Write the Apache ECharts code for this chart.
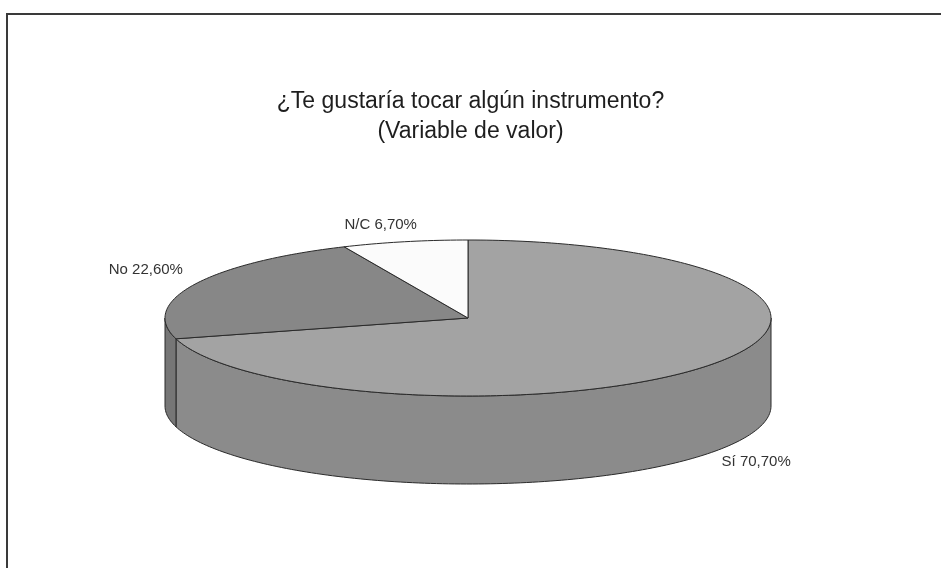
<!DOCTYPE html>
<html>
<head>
<meta charset="utf-8">
<script src="https://cdn.jsdelivr.net/npm/echarts@6/dist/echarts.min.js"></script>
<style>
  html, body { margin: 0; padding: 0; background: #fff; }
  #main { width: 941px; height: 568px; }
</style>
</head>
<body>
<div id="main"></div>
<script>
    // datos del grafico
    var categories = ['Sí', 'No', 'N/C'];
    var values = [70.7, 22.6, 6.7];
    var titleLines = ['¿Te gustaría tocar algún instrumento?', '(Variable de valor)'];

    // colores: cara superior y lateral
    var topColors = ['#a3a3a3', '#878787', '#fbfbfb'];
    var sideColors = ['#8b8b8b', '#767676', '#dddddd'];
    // desplazamiento de etiquetas respecto al borde del sector
    var labelOffsets = [[47, 9], [-48, -15], [-24, -17]];

    var cx = 468, cy = 318, rx = 303, ry = 78, depth = 88;
    var total = values.reduce(function (a, b) { return a + b; }, 0);

    function pt(a, dy) {
        return [cx + rx * Math.sin(a), cy - ry * Math.cos(a) + (dy || 0)];
    }
    function arc(a0, a1, dy) {
        var pts = [];
        var n = Math.max(2, Math.ceil(Math.abs(a1 - a0) / 0.02));
        for (var k = 0; k <= n; k++) {
            pts.push(pt(a0 + (a1 - a0) * k / n, dy));
        }
        return pts;
    }

    var myChart = echarts.init(document.getElementById('main'));
    var option = {
        backgroundColor: '#ffffff',
        animation: false,
        title: [
            {
                text: titleLines[0], left: 'center', top: 85,
                textStyle: { fontFamily: 'Liberation Sans', fontSize: 23, fontWeight: 'normal', color: '#1e1e1e' }
            },
            {
                text: titleLines[1], left: 'center', top: 115,
                textStyle: { fontFamily: 'Liberation Sans', fontSize: 23, fontWeight: 'normal', color: '#1e1e1e' }
            }
        ],
        graphic: [
            {
                type: 'polyline',
                shape: { points: [[7, 568], [7, 14], [941, 14]] },
                style: { stroke: '#3a3a3a', lineWidth: 2, fill: null }
            }
        ],
        series: [
            {
                type: 'custom',
                coordinateSystem: 'none',
                data: categories.map(function (c, i) { return { name: c, value: values[i] }; }),
                renderItem: function (params, api) {
                    var i = params.dataIndex;
                    var before = 0;
                    for (var j = 0; j < i; j++) before += values[j];
                    var a0 = before / total * Math.PI * 2;
                    var a1 = (before + api.value(0)) / total * Math.PI * 2;
                    var children = [];

                    // lateral visible (mitad frontal)
                    var s0 = Math.max(a0, Math.PI / 2), s1 = Math.min(a1, Math.PI * 1.5);
                    if (s1 > s0) {
                        var sidePts = arc(s0, s1, 0).concat(arc(s1, s0, depth));
                        children.push({
                            type: 'polygon', z2: 1,
                            shape: { points: sidePts },
                            style: { fill: sideColors[i], stroke: '#2a2a2a', lineWidth: 1 }
                        });
                    }

                    // cara superior
                    var topPts = [[cx, cy]].concat(arc(a0, a1, 0));
                    children.push({
                        type: 'polygon', z2: 2,
                        shape: { points: topPts },
                        style: { fill: topColors[i], stroke: '#2a2a2a', lineWidth: 1 }
                    });

                    // etiqueta
                    var m = (a0 + a1) / 2;
                    var edge = pt(m, Math.cos(m) < 0 ? depth : 0);
                    var txt = categories[i] + ' ' + api.value(0).toFixed(2).replace('.', ',') + '%';
                    children.push({
                        type: 'text', z2: 3,
                        style: {
                            text: txt,
                            x: edge[0] + labelOffsets[i][0],
                            y: edge[1] + labelOffsets[i][1],
                            align: 'center', verticalAlign: 'middle',
                            fill: '#333', fontSize: 15, fontFamily: 'Liberation Sans'
                        }
                    });
                    return { type: 'group', children: children };
                }
            }
        ]
    };
    myChart.setOption(option);
</script>
</body>
</html>
